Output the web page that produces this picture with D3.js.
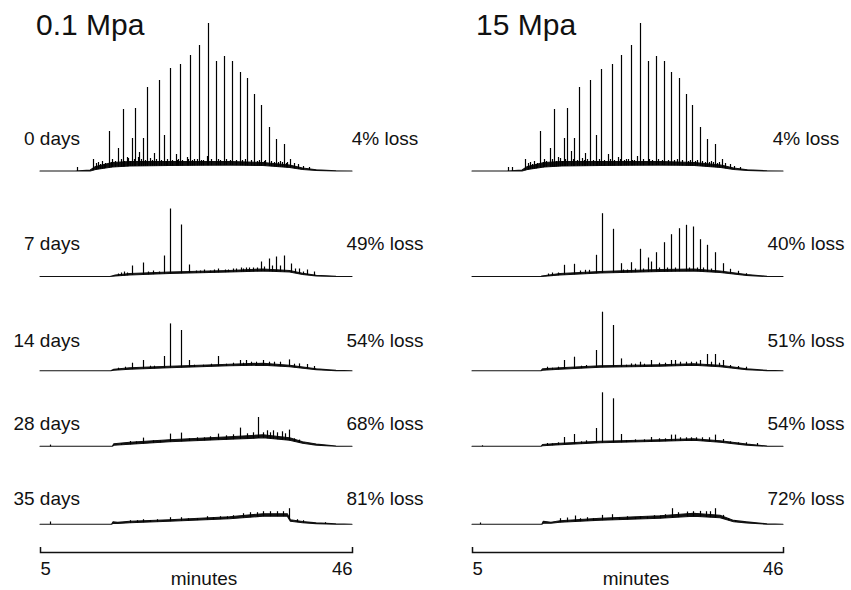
<!DOCTYPE html>
<html>
<head>
<meta charset="utf-8">
<script src="https://cdn.jsdelivr.net/npm/d3@7"></script>
<style>
  body { margin: 0; background: #fff; }
  svg text { font-family: "Liberation Sans", Arial, sans-serif; fill: #111; }
</style>
</head>
<body>
<svg id="chart" width="851" height="590"></svg>
<script>
// retention time window (minutes) and labels
const timeTicks = [5, 46];
const dayLabels = ['0 days', '7 days', '14 days', '28 days', '35 days'];
const loss01 = ['4% loss', '49% loss', '54% loss', '68% loss', '81% loss'];
const loss15 = ['4% loss', '40% loss', '51% loss', '54% loss', '72% loss'];

// peaks: [minutes, apex response], response in arbitrary units
const peaks01 = [
  [[9.82, 4], [12.0, 12], [12.66, 9], [13.2, 10], [13.6, 8], [14.07, 40], [14.5, 12], [15.29, 23], [15.87, 62],
   [16.4, 14], [16.8, 10], [17.05, 33], [17.52, 63], [17.9, 14], [18.05, 19], [18.5, 33], [19.1, 84], [19.5, 13],
   [19.98, 18], [20.2, 12], [20.64, 91], [21.29, 36], [21.7, 12], [22.08, 103], [22.87, 17], [23.0, 11], [23.44, 107],
   [24.28, 14], [24.71, 116], [25.3, 12], [25.89, 126], [26.4, 11], [26.91, 15], [27.04, 148], [28.17, 110],
   [28.7, 11], [29.22, 115], [30.27, 110], [30.8, 11], [31.28, 99], [32.24, 93], [32.7, 11], [33.16, 77],
   [34.08, 66], [34.6, 11], [35.05, 44], [36.01, 32], [36.5, 10], [37.02, 27], [37.5, 9], [37.85, 12],
   [38.94, 7], [39.5, 5], [40.3, 4],
   [12.4, 8], [12.9, 7], [13.4, 7], [14.3, 9], [14.8, 10], [15.6, 12], [16.1, 10], [16.6, 13], [17.3, 12],
   [18.3, 12], [18.8, 11], [19.7, 11], [20.9, 11], [21.5, 10], [22.4, 11], [23.2, 12], [23.7, 11], [24.5, 12],
   [25.0, 11], [25.6, 12], [26.1, 11], [27.5, 12], [28.4, 12], [29.5, 12], [30.0, 11], [31.6, 11], [32.0, 12],
   [33.5, 10], [33.8, 11], [34.4, 10], [35.3, 10], [35.7, 9], [36.3, 9], [36.8, 9], [37.3, 8], [38.4, 8]],
  [[16.0, 5], [17.13, 11], [18.57, 14], [19.8, 6], [20.6, 5], [21.29, 21], [22.08, 68], [23.53, 52], [24.58, 12],
   [26.5, 7], [27.3, 6], [28.43, 8], [29.3, 7], [30.32, 8], [31.37, 9], [32.07, 9], [33.03, 9], [34.04, 15],
   [35.05, 18], [36.01, 20], [37.02, 21], [37.98, 13], [39.07, 8], [40.05, 7], [41.01, 5],
   [15.2, 3], [15.6, 4], [16.4, 4], [19.2, 5], [25.5, 6], [26.0, 6], [27.8, 7], [29.7, 7], [30.8, 8], [31.7, 8],
   [32.5, 9], [33.5, 9], [34.5, 10], [35.5, 11], [36.5, 11], [38.5, 8], [39.6, 5]],
  [[17.13, 8], [18.57, 10.7], [19.98, 5], [21.29, 14.7], [22.08, 47.3], [23.53, 40.7], [24.58, 10.7],
   [28.43, 14.7], [31.28, 10.7], [32.07, 10.7], [34.35, 10.7], [37.76, 11.3], [39.07, 7.3], [40.05, 6.7], [41.01, 4.7],
   [15.3, 3], [16.2, 4], [19.4, 5], [25.3, 6], [26.4, 6], [27.5, 7], [29.4, 7], [30.4, 8], [31.7, 8], [32.7, 9],
   [33.4, 9], [35.1, 9], [35.8, 9], [36.6, 9], [38.4, 7]],
  [[6.31, 1.7], [16.83, 5.3], [18.57, 8.7], [19.89, 6], [22.08, 12.7], [23.53, 13.7], [28.43, 12.7], [31.28, 18.7],
   [33.69, 29.3], [34.79, 16], [35.66, 16], [36.76, 15], [37.76, 16.7], [39.07, 6.7],
   [15.6, 3], [17.6, 5], [20.8, 6], [24.6, 8], [25.6, 9], [26.6, 9], [27.4, 10], [29.4, 11], [30.3, 12],
   [32.2, 13], [33.0, 14], [34.3, 14], [35.2, 14], [36.2, 14], [37.2, 13], [38.4, 8]],
  [[6.31, 2.7], [16.83, 4], [17.71, 4], [18.57, 5], [19.46, 4], [20.34, 5], [22.08, 7], [23.49, 7], [24.49, 6],
   [25.59, 6], [26.91, 8], [27.78, 7], [28.65, 8], [29.53, 8], [30.4, 9], [31.72, 11], [32.6, 12], [33.48, 12],
   [34.35, 13], [35.22, 13], [36.1, 13], [36.97, 13], [37.76, 16], [38.73, 5], [39.6, 4], [42.45, 2]]
];

const peaks15 = [
  [[9.79, 4], [10.32, 4], [11.99, 12], [12.65, 9], [13.2, 10], [13.6, 8], [13.96, 40], [14.5, 12], [15.28, 23],
   [15.77, 62], [16.4, 14], [16.8, 10], [17.13, 33], [17.48, 63], [18.01, 20], [18.49, 33], [19.11, 84], [19.5, 13],
   [19.9, 18], [20.2, 12], [20.56, 91], [21.31, 36], [21.7, 12], [22.05, 102], [22.89, 17], [23.42, 107],
   [24.29, 14], [24.68, 116], [25.3, 12], [25.92, 126], [26.4, 11], [26.71, 15], [27.11, 148], [28.2, 110],
   [28.7, 11], [29.22, 115], [30.27, 110], [30.8, 11], [31.27, 99], [32.25, 93], [32.7, 11], [33.21, 77],
   [34.04, 66], [34.6, 11], [35.02, 44], [36.02, 32], [36.5, 10], [37.03, 27], [37.5, 9], [37.92, 12],
   [39.01, 7], [39.5, 5], [40.3, 4],
   [12.4, 8], [12.9, 7], [13.4, 7], [14.3, 9], [14.8, 10], [15.6, 12], [16.1, 10], [16.6, 13], [17.3, 12],
   [18.3, 12], [18.8, 11], [19.7, 11], [20.9, 11], [21.5, 10], [22.4, 11], [23.2, 12], [23.7, 11], [24.5, 12],
   [25.0, 11], [25.6, 12], [26.1, 11], [27.5, 12], [28.4, 12], [29.5, 12], [30.0, 11], [31.6, 11], [32.0, 12],
   [33.5, 10], [33.8, 11], [34.4, 10], [35.3, 10], [35.7, 9], [36.3, 9], [36.8, 9], [37.3, 8], [38.4, 8]],
  [[17.17, 11.7], [18.49, 12.7], [19.9, 6.7], [20.46, 6.7], [21.31, 21.7], [22.18, 63.3], [23.55, 47.7],
   [24.6, 13.3], [25.92, 14.3], [27.11, 27.7], [28.16, 19], [28.56, 15], [29.26, 24.3], [30.27, 34.3],
   [31.27, 42.3], [32.25, 48.3], [33.17, 51.7], [34.1, 50], [35.06, 37.3], [36.02, 31.7], [37.03, 24.3],
   [38.05, 13.3], [39.05, 7.7], [40.07, 5.7], [41.12, 3.3],
   [15.0, 3], [15.6, 4], [16.3, 4], [19.3, 6], [24.9, 7], [25.4, 7], [26.5, 8], [27.6, 8], [29.7, 9], [30.7, 9],
   [31.7, 9], [33.6, 9], [34.6, 9], [35.5, 9], [36.5, 8]],
  [[14.93, 4], [17.17, 10.7], [18.49, 14], [20.03, 5.7], [21.31, 20.7], [22.18, 59], [23.55, 45.7], [24.6, 12.3],
   [25.92, 7.3], [27.11, 9], [28.56, 10.7], [31.27, 10.7], [31.76, 10.7], [35.06, 10.7], [36.02, 16.7],
   [37.03, 16.7], [38.05, 10.7], [39.05, 5.7], [40.07, 4.7], [41.12, 4],
   [15.6, 3], [16.3, 4], [19.4, 5], [25.3, 6], [26.5, 7], [27.7, 7], [29.6, 8], [30.4, 8], [32.4, 9], [33.2, 9],
   [33.9, 9], [34.5, 9], [36.5, 9], [37.5, 8]],
  [[6.28, 1], [14.93, 3.3], [17.17, 9.3], [18.49, 12.3], [20.03, 6], [21.31, 18.3], [22.18, 54], [23.55, 48],
   [24.6, 12.3], [28.56, 9.3], [31.27, 11.7], [31.76, 11.7], [37.03, 11.7], [38.05, 7.3], [39.05, 5],
   [40.07, 4], [41.12, 4], [42.53, 3.3],
   [15.6, 3], [16.3, 4], [19.4, 5], [25.3, 6], [26.5, 7], [27.7, 7], [29.6, 8], [30.4, 8], [32.4, 9], [33.2, 9],
   [33.9, 9], [34.5, 9], [35.3, 9], [36.2, 9]],
  [[6.05, 1.7], [16.6, 6], [17.48, 6.7], [18.58, 8.7], [20.12, 7], [22.1, 9.3], [23.42, 10], [25.39, 8],
   [28.03, 7.7], [29.78, 8.7], [31.33, 16], [33.3, 12.7], [35.06, 13.3], [37.03, 16], [38.13, 9.3],
   [19.2, 6], [21.0, 6], [24.4, 7], [26.5, 7], [27.2, 8], [29.0, 9], [30.5, 10], [32.2, 12], [34.2, 13],
   [35.8, 13], [36.4, 13], [38.8, 6], [39.7, 4]]
];

// unresolved hump / noise band: [minutes, lower edge, upper edge]
const band01 = [
  [[5, 0, 0], [9.6, 0, 0], [10.6, 0, 0.5], [11.6, 0, 1], [12.3, 1.5, 4.5], [14.5, 4, 8.5], [16.8, 5, 9.5],
   [22, 5.5, 9.5], [29.9, 6, 9.5], [34.3, 5.5, 8.5], [37.8, 3.5, 6], [39.5, 1.5, 3], [41.3, 0.5, 1.2],
   [43.9, 0, 0.3], [46, 0, 0]],
  [[5, 0, 0], [14.2, 0, 0], [14.9, 0.5, 1.5], [16.8, 1.5, 3], [22, 3, 4.5], [29.9, 4.5, 6], [34.3, 5.5, 7.5],
   [37.8, 4.5, 6], [39.5, 2, 3.2], [41.3, 0.5, 1.2], [43.9, 0, 0.3], [46, 0, 0]],
  [[5, 0, 0], [14.3, 0, 0], [14.7, 0.5, 1.5], [16.8, 1.5, 3], [22, 3, 4.5], [29.9, 5, 6.5], [34.3, 5.5, 7.5],
   [37.8, 4, 5.5], [41.3, 1, 2], [43.9, 0, 0.3], [46, 0, 0]],
  [[5, 0, 0], [14.5, 0, 0], [14.7, 1, 2.5], [16.8, 2, 4], [22, 4.5, 6.5], [29.9, 7, 9.5], [34.3, 8.5, 11.5],
   [37.8, 6, 8.5], [39.5, 3, 4.5], [41.3, 1.2, 2.3], [43.9, 0, 0.3], [46, 0, 0]],
  [[5, 0, 0], [14.4, 0, 0], [14.6, 1, 2.5], [15.2, 0.8, 1.8], [16.8, 1.5, 3], [22, 3, 4.5], [29.9, 5.5, 7.5],
   [34.3, 8, 10.5], [37.5, 8, 10.5], [37.9, 3, 4.5], [39.5, 1.5, 2.7], [41.3, 0.5, 1.3], [43.9, 0, 0.3], [46, 0, 0]]
];

const band15 = [
  [[5, 0, 0], [9.6, 0, 0], [10.6, 0, 0.5], [11.6, 0, 1], [12.3, 1.5, 4.5], [14.5, 4, 8.5], [16.8, 5, 9.5],
   [22, 5.5, 9.5], [29.9, 6, 9.5], [34.3, 5.5, 8.5], [37.8, 3.5, 6], [39.5, 1.5, 3], [41.3, 0.5, 1.2],
   [43.9, 0, 0.3], [46, 0, 0]],
  [[5, 0, 0], [14.1, 0, 0], [14.2, 0, 0.5], [16.6, 1.5, 3], [21.9, 3.5, 5], [29.8, 5, 7], [34.2, 5.5, 7.5],
   [37.7, 4, 5.5], [41.2, 1, 2], [43.9, 0, 0.3], [46, 0, 0]],
  [[5, 0, 0], [14.1, 0, 0], [14.3, 0.5, 1.8], [16.6, 1.5, 3], [21.9, 3.5, 5], [29.8, 4.5, 6], [34.2, 5.5, 7],
   [37.7, 4, 5.5], [41.2, 1, 2], [43.9, 0, 0.3], [46, 0, 0]],
  [[5, 0, 0], [14.1, 0, 0], [14.3, 0.5, 1.8], [16.6, 1.5, 3], [21.9, 3.5, 5], [29.8, 5, 6.5], [34.2, 6, 7.5],
   [37.7, 4, 5.5], [41.2, 1.2, 2.3], [43.9, 0, 0.3], [46, 0, 0]],
  [[5, 0, 0], [14.2, 0, 0], [14.4, 1, 3], [15.4, 1, 2], [16.6, 2, 3.5], [21.9, 4, 6], [29.8, 6, 8.5],
   [34.2, 8, 11], [37.7, 6.5, 9], [39.5, 2.5, 3.8], [41.2, 1.2, 2.3], [43.9, 0, 0.3], [46, 0, 0]]
];

// layout
const rowBase = [171, 276.5, 370.7, 446.3, 524.2];
const labelBase = [144.5, 249.5, 346.5, 429.5, 505];
const axisY = 552;
const ink = '#111';

const svg = d3.select('#chart');
// response units -> pixels above each row baseline
const y = d3.scaleLinear().domain([0, 150]).range([0, 150]);

function drawPanel(opts) {
  const x = d3.scaleLinear().domain(timeTicks).range([opts.x0, opts.x1]);
  const g = svg.append('g');

  g.append('text')
    .attr('x', opts.titleX)
    .attr('y', 35)
    .style('font-size', '30px')
    .text(opts.title);

  opts.bands.forEach((band, i) => {
    const row = g.append('g').attr('transform', `translate(0,${rowBase[i]})`);
    const lo = d3.scaleLinear().domain(band.map((d) => d[0])).range(band.map((d) => d[1]));

    row.append('path')
      .datum(band)
      .attr('d', d3.area()
        .x((d) => x(d[0]))
        .y0((d) => -y(d[1]))
        .y1((d) => -y(d[2])))
      .attr('fill', ink)
      .attr('stroke', ink)
      .attr('stroke-width', 1.1)
      .attr('stroke-linejoin', 'round');

    row.selectAll('line')
      .data(opts.peaks[i])
      .join('line')
      .attr('x1', (d) => Math.round(x(d[0])) + 0.5)
      .attr('x2', (d) => Math.round(x(d[0])) + 0.5)
      .attr('y1', (d) => -y(lo(d[0])))
      .attr('y2', (d) => -y(d[1]))
      .attr('stroke', '#000')
      .attr('stroke-width', 1.2);

    if (opts.days) {
      g.append('text')
        .attr('x', 80)
        .attr('y', labelBase[i])
        .attr('text-anchor', 'end')
        .style('font-size', '19px')
        .text(opts.days[i]);
    }
    g.append('text')
      .attr('x', opts.lossX)
      .attr('y', labelBase[i])
      .attr('text-anchor', 'middle')
      .style('font-size', '19px')
      .text(opts.losses[i]);
  });

  // bracket-style time axis
  const axis = g.append('g')
    .attr('transform', `translate(0,${axisY})`)
    .call(d3.axisBottom(x).tickValues(timeTicks).tickSizeInner(0).tickSizeOuter(-5).tickPadding(10));
  axis.select('.domain').attr('stroke', ink).attr('stroke-width', 1.5);
  axis.selectAll('.tick text')
    .attr('fill', ink)
    .style('font-size', '18.5px')
    .style('font-family', '"Liberation Sans", Arial, sans-serif')
    .attr('text-anchor', (d, i) => (i === 0 ? 'start' : 'end'));

  g.append('text')
    .attr('x', opts.minutesX)
    .attr('y', 585)
    .attr('text-anchor', 'middle')
    .style('font-size', '19px')
    .text('minutes');
}

drawPanel({
  x0: 40, x1: 352, title: '0.1 Mpa', titleX: 36,
  peaks: peaks01, bands: band01, days: dayLabels, losses: loss01, lossX: 385, minutesX: 204,
});
drawPanel({
  x0: 472, x1: 783, title: '15 Mpa', titleX: 476,
  peaks: peaks15, bands: band15, days: null, losses: loss15, lossX: 806, minutesX: 636,
});
</script>
</body>
</html>
